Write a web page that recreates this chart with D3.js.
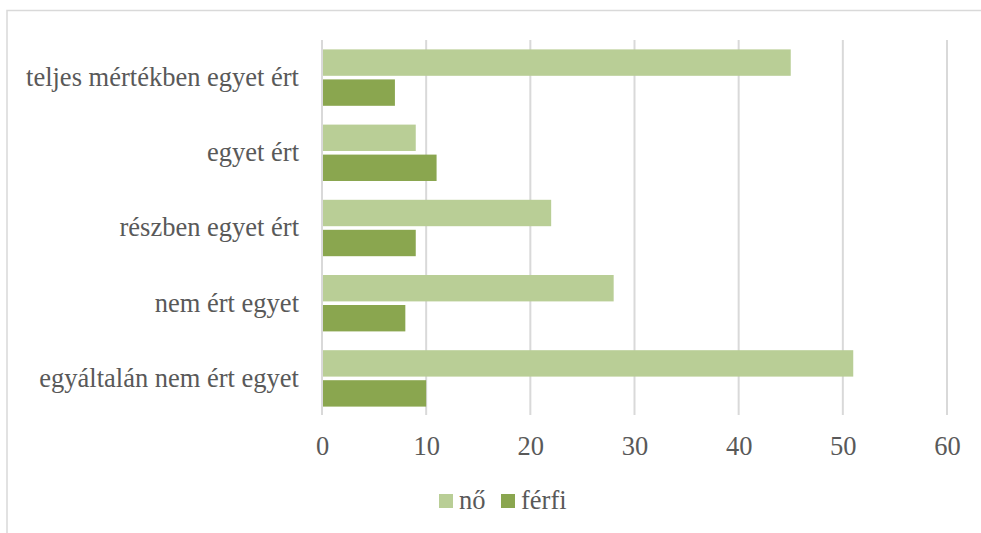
<!DOCTYPE html>
<html><head><meta charset="utf-8">
<script src="https://cdn.jsdelivr.net/npm/d3@7"></script>
<style>body{margin:0;background:#fff;overflow:hidden}svg{display:block}
svg text{font-family:"Liberation Serif","Times New Roman",serif}</style>
</head><body><svg id="c" width="981" height="533"></svg>
<script>
const categories = ["teljes mértékben egyet ért","egyet ért","részben egyet ért","nem ért egyet","egyáltalán nem ért egyet"];
const seriesNames = ["nő","férfi"];
const noValues = [45, 9, 22, 28, 51];
const ferfiValues = [7, 11, 9, 8, 10];
const xTicks = [0,10,20,30,40,50,60];
const colors = ["#B9CE96","#8AA64F"];

const svg = d3.select("#c");
const fs = 26.5;
svg.append("path").attr("d","M7,533 V10.5 H981")
  .attr("fill","none").attr("stroke","#d9d9d9").attr("stroke-width",1.5);

const x = d3.scaleLinear().domain([0,60]).range([322,947]);
const y = d3.scaleBand().domain(categories).range([40,416]).paddingInner(0.25).paddingOuter(0.125);
const inner = d3.scaleBand().domain(seriesNames).range([0,y.bandwidth()]).paddingInner(0.12);

svg.append("g").selectAll("line").data(xTicks).join("line")
  .attr("x1",d=>x(d)).attr("x2",d=>x(d)).attr("y1",40).attr("y2",415)
  .attr("stroke","#d9d9d9").attr("stroke-width",2);

const data = [noValues, ferfiValues];
seriesNames.forEach((s,i)=>{
  svg.append("g").selectAll("rect").data(categories).join("rect")
    .attr("x",x(0)+1).attr("y",c=>y(c)+inner(s))
    .attr("width",(c,j)=>x(data[i][j])-x(0)-1).attr("height",inner.bandwidth())
    .attr("fill",colors[i]);
});

const xAxis = d3.axisBottom(x).tickValues(xTicks).tickSize(0).tickPadding(0);
const gx = svg.append("g").attr("transform","translate(0,455)").call(xAxis);
gx.select(".domain").remove();
gx.attr("font-family",null);
gx.selectAll("text").attr("font-size",fs).attr("fill","#595959").attr("dy","0");

const yAxis = d3.axisLeft(y).tickSize(0).tickPadding(0);
const gy = svg.append("g").attr("transform","translate(299,0)").call(yAxis);
gy.select(".domain").remove();
gy.attr("font-family",null);
gy.selectAll("text").attr("font-size",fs).attr("fill","#595959");

const leg = svg.append("g");
const legX = [439, 501];
seriesNames.forEach((s,i)=>{
  leg.append("rect").attr("x",legX[i]).attr("y",494).attr("width",14).attr("height",14).attr("fill",colors[i]);
  leg.append("text").attr("x",legX[i]+20).attr("y",509).text(s)
    .attr("font-size",fs).attr("fill","#595959");
});
</script></body></html>
